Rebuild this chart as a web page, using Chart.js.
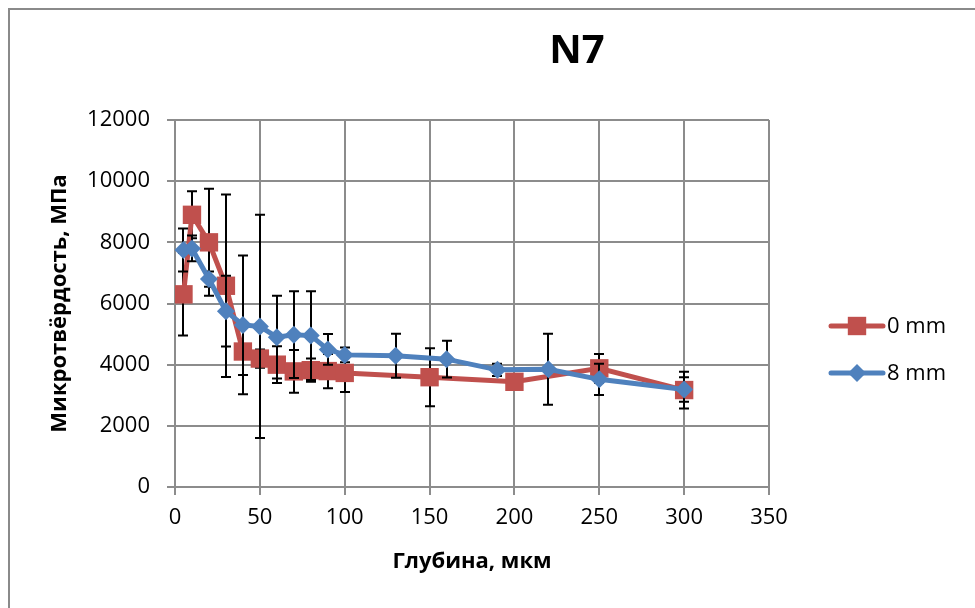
<!DOCTYPE html>
<html>
<head>
<meta charset="utf-8">
<script src="https://cdn.jsdelivr.net/npm/chart.js@4.4.1/dist/chart.umd.min.js"></script>
<style>
  html, body { margin: 0; padding: 0; background: #ffffff; }
  #wrap { width: 975px; height: 608px; position: relative; }
</style>
</head>
<body>
<div id="wrap"><canvas id="c" width="975" height="608"></canvas></div>
<script>
// ---- data ----
const chartTitle = "N7";
const xTitle = "Глубина, мкм";
const yTitle = "Микротвёрдость, МПа";
const seriesNames = ["0 mm", "8 mm"];

const depth0 = [5, 10, 20, 30, 40, 50, 60, 70, 80, 90, 100, 150, 200, 250, 300];
const hv0    = [6300, 8900, 8000, 6580, 4430, 4200, 4000, 3780, 3820, 3790, 3730, 3590, 3440, 3880, 3170];
const err0   = [1350, 770, 1750, 2980, 770, 300, 600, 700, 380, 560, 620, 950, 250, 470, 600];

const depth8 = [5, 10, 20, 30, 40, 50, 60, 70, 80, 90, 100, 130, 160, 190, 220, 250, 300];
const hv8    = [7750, 7800, 6800, 5750, 5300, 5250, 4900, 4980, 4950, 4500, 4320, 4290, 4180, 3830, 3850, 3520, 3190];
const err8   = [700, 420, 250, 1160, 2270, 3650, 1350, 1420, 1450, 500, 240, 720, 600, 200, 1160, 510, 400];

const xTicks = [0, 50, 100, 150, 200, 250, 300, 350];
const yTicks = [0, 2000, 4000, 6000, 8000, 10000, 12000];

// ---- styling ----
const RED = "#C0504D";
const BLUE = "#4F81BD";
const GRID = "#8c8c8c";
const FONT = "'Open Sans', 'Liberation Sans', sans-serif";

function toPoints(xs, ys) { return xs.map((x, i) => ({ x: x, y: ys[i] })); }

const errors = [err0, err8];

const errorBarPlugin = {
  id: "errorBars",
  beforeDatasetDraw(chart, args) {
    const ds = chart.data.datasets[args.index];
    const errs = errors[ds.errIndex];
    const xs = chart.scales.x, ys = chart.scales.y;
    const ctx = chart.ctx;
    ctx.save();
    ctx.strokeStyle = "#000000";
    ctx.lineWidth = 2;
    ds.data.forEach((p, i) => {
      const e = errs[i];
      const px = Math.round(xs.getPixelForValue(p.x));
      const yTop = ys.getPixelForValue(p.y + e);
      const yBot = ys.getPixelForValue(p.y - e);
      ctx.beginPath();
      ctx.moveTo(px, yTop); ctx.lineTo(px, yBot);
      ctx.moveTo(px - 5, yTop); ctx.lineTo(px + 5, yTop);
      ctx.moveTo(px - 5, yBot); ctx.lineTo(px + 5, yBot);
      ctx.stroke();
    });
    ctx.restore();
  }
};

const frameAndTitlePlugin = {
  id: "frameAndTitle",
  beforeDraw(chart) {
    const ctx = chart.ctx;
    ctx.save();
    ctx.fillStyle = "#ffffff";
    ctx.fillRect(0, 0, chart.width, chart.height);
    ctx.strokeStyle = "#8a8a8a";
    ctx.lineWidth = 2;
    ctx.strokeRect(9, 9, chart.width + 50, chart.height + 50);
    ctx.restore();
  },
  afterDraw(chart) {
    const ctx = chart.ctx;
    ctx.save();
    ctx.fillStyle = "#000000";
    ctx.font = "bold 40px " + FONT;
    ctx.textAlign = "center";
    ctx.textBaseline = "middle";
    ctx.fillText(chartTitle, 577, 52);
    // legend
    ctx.font = "22px " + FONT;
    ctx.textAlign = "left";
    const legendOrder = [0, 1];
    legendOrder.forEach((di, k) => {
      const ds = chart.data.datasets[di];
      const y = 326 + k * 47;
      ctx.strokeStyle = ds.borderColor;
      ctx.lineWidth = 5;
      ctx.lineCap = "round";
      ctx.beginPath();
      ctx.moveTo(831, y); ctx.lineTo(883, y);
      ctx.stroke();
      ctx.fillStyle = ds.backgroundColor;
      ctx.beginPath();
      if (ds.pointStyle === "rect") {
        const s = ds.pointRadius * Math.SQRT1_2;
        ctx.rect(857 - s, y - s, 2 * s, 2 * s);
      } else {
        const r = ds.pointRadius;
        ctx.moveTo(857 - r, y); ctx.lineTo(857, y - r);
        ctx.lineTo(857 + r, y); ctx.lineTo(857, y + r);
        ctx.closePath();
      }
      ctx.fill();
      ctx.fillStyle = "#000000";
      ctx.fillText(ds.label, 887, y + 1);
    });
    ctx.restore();
  }
};

new Chart(document.getElementById("c"), {
  type: "line",
  data: {
    datasets: [
      {
        label: seriesNames[0],
        data: toPoints(depth0, hv0),
        errIndex: 0,
        order: 2,
        borderColor: RED,
        backgroundColor: RED,
        borderWidth: 5,
        pointStyle: "rect",
        pointRadius: 13,
        pointBorderWidth: 0,
        pointBackgroundColor: RED,
        tension: 0
      },
      {
        label: seriesNames[1],
        data: toPoints(depth8, hv8),
        errIndex: 1,
        order: 1,
        borderColor: BLUE,
        backgroundColor: BLUE,
        borderWidth: 5,
        pointStyle: "rectRot",
        pointRadius: 9,
        pointBorderWidth: 0,
        pointBackgroundColor: BLUE,
        tension: 0
      }
    ]
  },
  options: {
    responsive: false,
    animation: false,
    devicePixelRatio: 1,
    layout: { padding: { top: 120, right: 206, left: 0, bottom: 0 } },
    plugins: {
      legend: { display: false },
      title: { display: false },
      tooltip: { enabled: false }
    },
    scales: {
      x: {
        type: "linear",
        min: xTicks[0],
        max: xTicks[xTicks.length - 1],
        afterBuildTicks(scale) { scale.ticks = xTicks.map(v => ({ value: v })); },
        afterFit(scale) { scale.height = 121; },
        grid: { color: GRID, lineWidth: 2, tickLength: 8, drawTicks: true },
        border: { color: GRID, width: 2 },
        ticks: { color: "#000", font: { family: FONT, size: 22 }, padding: 10, maxRotation: 0,
                 callback: v => String(v) },
        title: { display: true, text: xTitle, color: "#000",
                 font: { family: FONT, size: 22, weight: "bold" }, padding: { top: 0, bottom: 33 } }
      },
      y: {
        type: "linear",
        min: yTicks[0],
        max: yTicks[yTicks.length - 1],
        afterBuildTicks(scale) { scale.ticks = yTicks.map(v => ({ value: v })); },
        afterFit(scale) { scale.width = 175; },
        grid: { color: GRID, lineWidth: 2, tickLength: 8, drawTicks: true },
        border: { color: GRID, width: 2 },
        ticks: { color: "#000", font: { family: FONT, size: 22 }, padding: 17,
                 callback: v => String(v) },
        title: { display: true, text: yTitle, color: "#000",
                 font: { family: FONT, size: 22, weight: "bold" }, padding: { top: 47, bottom: 0 } }
      }
    }
  },
  plugins: [frameAndTitlePlugin, errorBarPlugin]
});
</script>
</body>
</html>
